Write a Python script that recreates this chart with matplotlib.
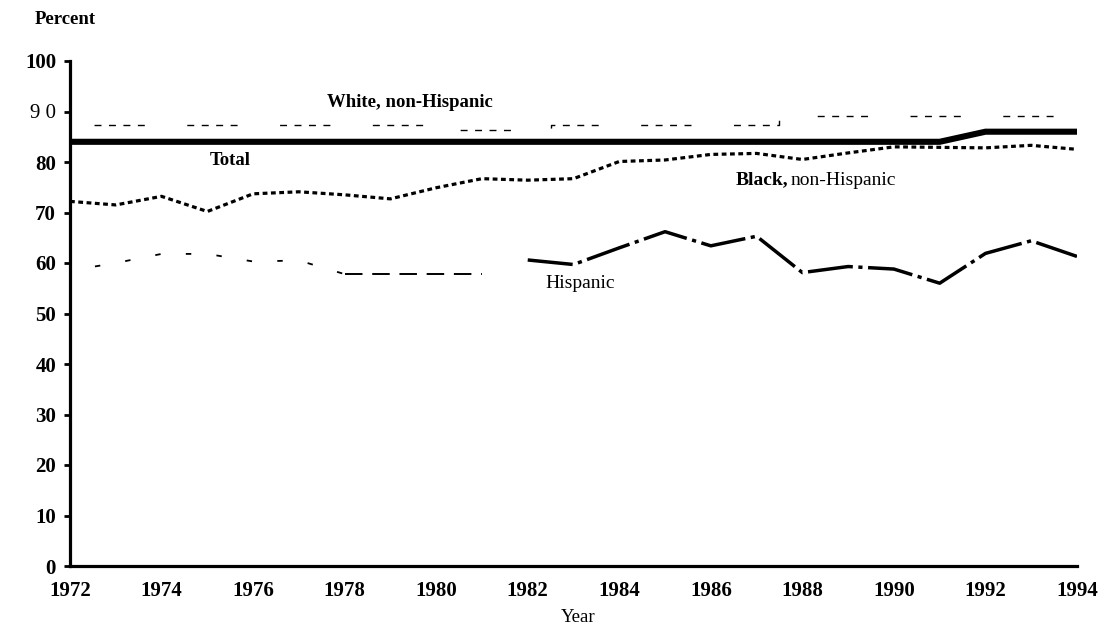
import matplotlib.pyplot as plt
import numpy as np

# values
years = list(range(1972, 1995))
total = [84.0] * 20 + [86.0, 86.0, 86.0]
white = [87.4] * 9 + [86.3, 86.3] + [87.4] * 5 + [89.2] * 7
black = [72.2, 71.5, 73.2, 70.2, 73.7, 74.1, 73.5, 72.7, 74.9, 76.7, 76.4, 76.7,
         80.1, 80.4, 81.5, 81.7, 80.5, 81.8, 83.0, 82.9, 82.8, 83.3, 82.5]
hispanic = [58.5, 60.0, 61.8, 61.8, 60.3, 60.5, 57.8, 57.8, 57.8, 57.8, 60.6, 59.7,
            63.0, 66.2, 63.4, 65.3, 58.1, 59.3, 58.8, 56.0, 61.9, 64.4, 61.3]
yticks = [0, 10, 20, 30, 40, 50, 60, 70, 80, 90, 100]
ytick_labels = ['0', '10', '20', '30', '40', '50', '60', '70', '80', '9 0', '100']
xticks = list(range(1972, 1995, 2))

plt.rcParams['font.family'] = ['Liberation Serif', 'DejaVu Serif']

fig = plt.figure(figsize=(11.04, 6.3), dpi=100)
ax = fig.add_axes([70 / 1104, 1 - 566 / 630, (1077 - 70) / 1104, (566 - 61) / 630])

x = np.array(years)

# white, non-hispanic: short dashes in groups of four
ax.plot(x, white, color='black', lw=1.0, drawstyle='steps-mid',
        linestyle=(49.5, (5, 5.4, 5, 5.4, 5, 5.4, 5, 30.6)))

# total
ax.plot(x, total, color='black', lw=4.4, solid_capstyle='butt')

# black, non-hispanic
ax.plot(x, black, color='black', lw=2.3, linestyle=(0, (1.5, 1.1)))

# hispanic, broken up in the early years
ax.plot(x[:7], hispanic[:7], color='black', lw=1.3, linestyle=(3, (3, 14)))
ax.plot(x[6:10], hispanic[6:10], color='black', lw=1.4, linestyle=(0, (9, 5)))
ax.plot(x[10:], hispanic[10:], color='black', lw=2.5,
        linestyle=(0, (13, 1.6, 1.2, 1.6)))

ax.set_xlim(1972, 1994)
ax.set_ylim(0, 100)

for s in ['top', 'right']:
    ax.spines[s].set_visible(False)
for s in ['left', 'bottom']:
    ax.spines[s].set_linewidth(2.3)

ax.set_yticks(yticks)
ax.set_yticklabels(ytick_labels)
ax.set_xticks(xticks)
ax.tick_params(axis='y', direction='out', length=4, width=2, pad=6, labelsize=15)
ax.tick_params(axis='x', length=0, pad=11, labelsize=15)
for lab in ax.get_yticklabels() + ax.get_xticklabels():
    lab.set_fontweight('bold')
ax.get_yticklabels()[9].set_fontweight('normal')

ax.text(1979.43, 91.7, 'White, non-Hispanic', ha='center', va='center',
        fontsize=13.5, fontweight='bold')
ax.text(1975.06, 80.2, 'Total', ha='left', va='center', fontsize=13.5,
        fontweight='bold')
ax.text(1986.55, 76.4, 'Black,', ha='left', va='center', fontsize=14,
        fontweight='bold')
ax.text(1987.75, 76.4, 'non-Hispanic', ha='left', va='center', fontsize=14)
ax.text(1982.38, 56.0, 'Hispanic', ha='left', va='center', fontsize=14)

fig.text(35 / 1104, 1 - 20 / 630, 'Percent', ha='left', va='center',
         fontsize=13.5, fontweight='bold')
fig.text(578 / 1104, 1 - 617 / 630, 'Year', ha='center', va='center',
         fontsize=13.5)

fig.savefig('out.png', dpi=100)
